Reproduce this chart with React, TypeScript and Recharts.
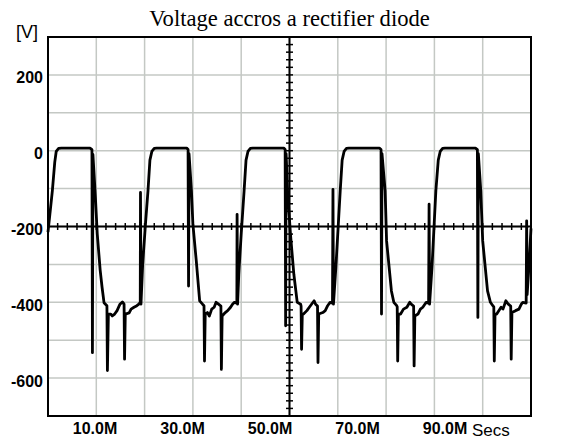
import React from 'react';
import {
  ComposedChart,
  Line,
  Scatter,
  XAxis,
  YAxis,
  CartesianGrid,
  ReferenceLine,
  ReferenceArea,
} from 'recharts';

// time in ms ("M"), voltage in V, one cycle per array
const cycle1 = [
  [0, -215], [0.9, -106], [1.4, -30], [1.7, -2], [2.2, 6], [2.8, 7], [8.7, 7], [9.1, 3],
  [9.2, -533], [9.3, -10], [9.8, -120], [10.2, -220], [10.8, -315], [11.2, -361], [11.6, -401],
  [12.2, -409], [12.3, -580], [12.5, -431], [13.0, -431], [13.3, -436], [13.8, -431], [14.3, -422],
  [14.9, -405], [15.4, -399], [15.75, -405], [15.85, -550], [16.0, -431], [16.8, -428], [17.2, -418],
  [17.8, -413], [18.4, -409], [18.8, -405], [19.1, -400], [19.15, -110], [19.25, -405],
];
const cycle2 = [
  [19.6, -300], [20.2, -190], [20.7, -106], [21.1, -25], [21.5, -2], [22.0, 6], [22.5, 7],
  [28.7, 7], [29.0, 3], [29.1, -357], [29.2, -8], [29.7, -106], [30.0, -194], [30.7, -291],
  [31.4, -396], [32.0, -405], [32.3, -409], [32.4, -555], [32.55, -431], [33.0, -427], [33.4, -436],
  [33.9, -418], [34.4, -413], [34.8, -400], [35.3, -405], [35.8, -410], [35.9, -577], [36.05, -436],
  [36.7, -427], [37.2, -422], [37.8, -413], [38.2, -405], [38.6, -400], [39.1, -402], [39.15, -168],
  [39.25, -405],
];
const cycle3 = [
  [39.5, -326], [40.0, -220], [40.6, -106], [41.0, -25], [41.4, -2], [41.9, 6], [42.4, 7],
  [48.8, 7], [49.1, 3], [49.2, -462], [49.3, -8], [49.6, -106], [50.2, -220], [50.9, -326],
  [51.6, -400], [52.3, -405], [52.4, -410], [52.5, -524], [52.65, -431], [52.9, -431], [53.6, -422],
  [54.1, -413], [55.1, -396], [55.4, -405], [55.8, -410], [55.9, -559], [56.05, -431], [56.9, -427],
  [57.4, -422], [57.9, -409], [58.4, -400], [58.9, -402], [59.0, -102], [59.1, -405],
];
const cycle4 = [
  [59.6, -308], [60.5, -106], [60.9, -25], [61.3, -2], [61.8, 6], [62.3, 7], [68.6, 7],
  [68.95, 3], [69.05, -431], [69.15, -8], [69.8, -106], [70.1, -238], [71.1, -370], [71.6, -400],
  [72.2, -409], [72.3, -412], [72.4, -555], [72.55, -431], [73.0, -431], [73.6, -418], [74.3, -413],
  [74.9, -400], [75.2, -405], [75.7, -410], [75.8, -568], [75.95, -436], [76.6, -431], [77.1, -418],
  [77.6, -413], [78.3, -400], [78.8, -402], [78.9, -141], [79.0, -405],
];
const cycle5 = [
  [79.5, -308], [80.3, -106], [80.8, -25], [81.2, -2], [81.7, 6], [82.2, 7], [88.5, 7],
  [88.9, 3], [89.0, -440], [89.1, -8], [89.6, -106], [90.0, -238], [91.0, -370], [91.6, -400],
  [92.1, -409], [92.3, -412], [92.4, -555], [92.55, -431], [92.9, -431], [93.8, -413], [94.2, -418],
  [94.8, -396], [95.3, -405], [95.8, -410], [95.9, -550], [96.05, -427], [96.8, -422], [97.5, -418],
  [98.0, -405], [98.3, -400], [99.0, -402], [99.1, -185], [99.2, -380], [99.6, -300], [100, -205],
];

const xGridTicks = [0, 10, 20, 30, 40, 50, 60, 70, 80, 90, 100];
// the scope prints its time labels on their own, slightly compressed, scale
const xLabelTicks = [10, 30, 50, 70, 90];
const xLabelDomain = [-0.74, 109.66];
const yGridTicks = [-700, -600, -500, -400, -300, -200, -100, 0, 100, 200, 300];
const yLabelTicks = [-600, -400, -200, 0, 200];

// small scale marks on the centre cross
const xMinorTicks = [
  2, 4, 6, 8, 10, 12, 14, 16, 18, 20, 22, 24, 26, 28, 30, 32, 34, 36, 38, 40, 42, 44, 46, 48,
  52, 54, 56, 58, 60, 62, 64, 66, 68, 70, 72, 74, 76, 78, 80, 82, 84, 86, 88, 90, 92, 94, 96, 98,
];
const yMinorTicks = [
  -680, -660, -640, -620, -600, -580, -560, -540, -520, -500, -480, -460, -440, -420, -400, -380,
  -360, -340, -320, -300, -280, -260, -240, -220, -180, -160, -140, -120, -100, -80, -60, -40,
  -20, 0, 20, 40, 60, 80, 100, 120, 140, 160, 180, 200, 220, 240, 260, 280,
];

const trace = [...cycle1, ...cycle2, ...cycle3, ...cycle4, ...cycle5].map(([t, v]) => ({ t, v }));
const hMarks = xMinorTicks.map(t => ({ t, v: -200 }));
const vMarks = yMinorTicks.map(v => ({ t: 50, v }));
const timeLabels = xLabelTicks.map(t => ({ t, v: -700, label: `${t.toFixed(1)}M` }));

const SANS = '"Liberation Sans", Arial, sans-serif';
const SERIF = '"Liberation Serif", "Times New Roman", serif';

const NoTick = () => null;

function YTick({ x, y, payload }: any) {
  if (!yLabelTicks.includes(payload.value)) return null;
  return (
    <text x={x - 5} y={y + 8.5} textAnchor="end" fontFamily={SANS} fontWeight="bold" fontSize={16} fill="#000">
      {payload.value}
    </text>
  );
}

const TimeLabel = ({ cx, cy, payload }: any) => (
  <text x={cx} y={cy + 18} textAnchor="middle" fontFamily={SANS} fontWeight="bold" fontSize={16} fill="#000">
    {payload?.label}
  </text>
);

const VMark = ({ cx, cy }: any) => (
  <line x1={cx} x2={cx} y1={cy - 3.5} y2={cy + 3.5} stroke="#000" strokeWidth={1.5} />
);
const HMark = ({ cx, cy }: any) => (
  <line x1={cx - 3.5} x2={cx + 3.5} y1={cy} y2={cy} stroke="#000" strokeWidth={1.5} />
);

export default function App() {
  return (
    <div style={{ position: 'absolute', left: 0, top: 0, width: 576, height: 443, background: '#fff' }}>
      <ComposedChart width={576} height={443} margin={{ top: 37, right: 45, bottom: 0, left: 0 }}>
        <CartesianGrid stroke="#c4c8c4" strokeWidth={1.5} />
        <XAxis
          dataKey="t"
          type="number"
          domain={[0, 100]}
          ticks={xGridTicks}
          height={27}
          tickSize={0}
          axisLine={false}
          tickLine={false}
          tick={<NoTick />}
          interval={0}
        />
        <XAxis xAxisId="lbl" dataKey="t" type="number" domain={xLabelDomain} hide />
        <YAxis
          type="number"
          domain={[-700, 300]}
          ticks={yGridTicks}
          width={48}
          tickSize={0}
          tickMargin={0}
          axisLine={false}
          tickLine={false}
          tick={<YTick />}
          interval={0}
        />
        <ReferenceLine y={-200} stroke="#000" strokeWidth={2} />
        <ReferenceLine x={50} stroke="#000" strokeWidth={2} />
        <Scatter data={hMarks} dataKey="v" shape={<VMark />} isAnimationActive={false} />
        <Scatter data={vMarks} dataKey="v" shape={<HMark />} isAnimationActive={false} />
        <Scatter
          xAxisId="lbl"
          data={timeLabels}
          dataKey="v"
          shape={<TimeLabel />}
          isAnimationActive={false}
        />
        <Line
          data={trace}
          dataKey="v"
          type="linear"
          stroke="#000"
          strokeWidth={2.8}
          strokeLinejoin="round"
          dot={false}
          activeDot={false}
          isAnimationActive={false}
        />
        <ReferenceArea x1={0} x2={100} y1={-700} y2={300} fill="none" stroke="#000" strokeWidth={2} />
      </ComposedChart>
      <svg width={576} height={443} style={{ position: 'absolute', left: 0, top: 0, pointerEvents: 'none' }}>
        <text x={289.5} y={26} textAnchor="middle" fontFamily={SERIF} fontSize={22.6} fill="#000">
          Voltage accros a rectifier diode
        </text>
        <text x={16} y={38} fontFamily={SANS} fontSize={18} fill="#000">[V]</text>
        <text x={472} y={436} fontFamily={SANS} fontSize={17} fill="#000">Secs</text>
      </svg>
    </div>
  );
}
